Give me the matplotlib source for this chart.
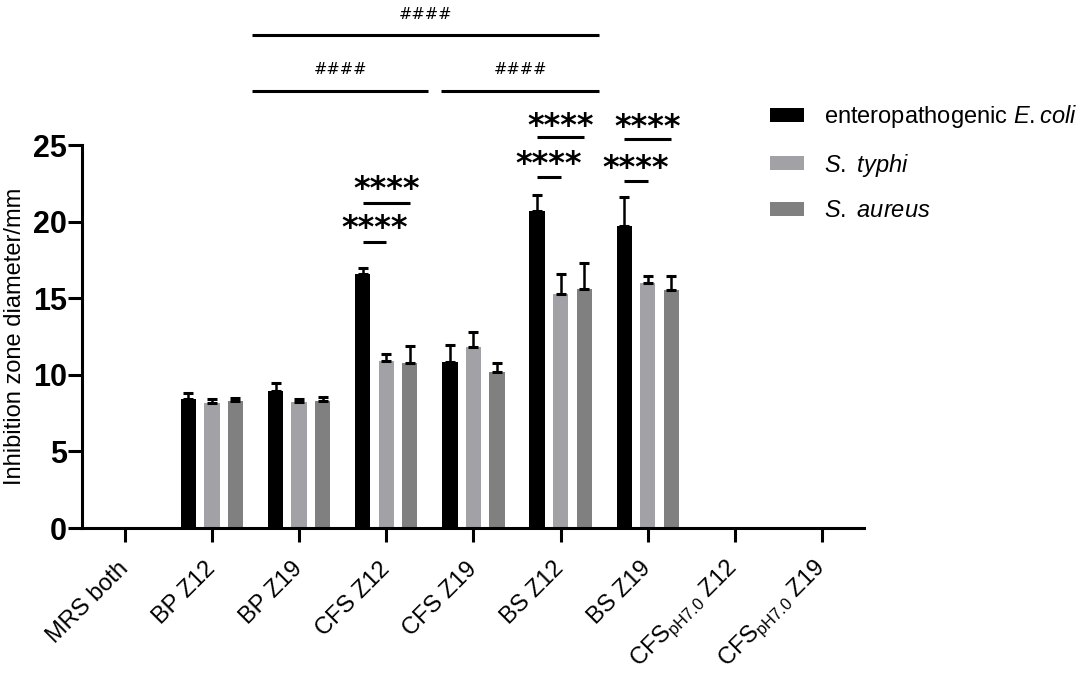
import numpy as np
import matplotlib
matplotlib.use("Agg")
import matplotlib.pyplot as plt
from matplotlib.transforms import offset_copy, ScaledTranslation

plt.rcParams['font.family'] = ['Liberation Sans', 'DejaVu Sans']
plt.rcParams['mathtext.fontset'] = 'custom'
plt.rcParams['mathtext.rm'] = 'Liberation Sans'
plt.rcParams['mathtext.it'] = 'Liberation Sans:italic'
plt.rcParams['mathtext.bf'] = 'Liberation Sans:bold'

# ---------------- data ----------------
categories = ["MRS both", "BP Z12", "BP Z19", "CFS Z12", "CFS Z19", "BS Z12", "BS Z19",
              r"CFS$_{\mathrm{pH7.0}}$ Z12", r"CFS$_{\mathrm{pH7.0}}$ Z19"]
series_names = ["enteropathogenic $E.coli$", r"$S.\ typhi$", r"$S.\ aureus$"]
ecoli = [0, 8.39, 8.96, 16.57, 10.85, 20.67, 19.74, 0, 0]
ecoli_sd = [0, 0.44, 0.52, 0.43, 1.09, 1.04, 1.85, 0, 0]
typhi = [0, 8.17, 8.22, 10.91, 11.83, 15.30, 15.98, 0, 0]
typhi_sd = [0, 0.24, 0.20, 0.46, 0.96, 1.28, 0.48, 0, 0]
aureus = [0, 8.26, 8.26, 10.74, 10.20, 15.63, 15.52, 0, 0]
aureus_sd = [0, 0.22, 0.26, 1.17, 0.57, 1.65, 0.91, 0, 0]
yticks = [0, 5, 10, 15, 20, 25]

# significance brackets: (group, series_a, series_b, line_y, text_y, label)
star_brackets = [
    (3, 0, 1, 18.64, 20.16, "****"),
    (3, 0, 2, 21.22, 22.70, "****"),
    (5, 0, 1, 22.94, 24.33, "****"),
    (5, 0, 2, 25.49, 26.83, "****"),
    (6, 0, 1, 22.62, 24.05, "****"),
    (6, 0, 2, 25.36, 26.73, "****"),
]
# hash brackets: (x_start, x_end, line_y, text_y, label)
hash_brackets = [
    (1.46, 5.44, 32.16, 33.60, "####"),
    (1.46, 3.48, 28.55, 30.00, "####"),
    (3.63, 5.44, 28.55, 30.00, "####"),
]

# ---------------- style ----------------
colors = ["#000000", "#a2a2a6", "#808080"]
offsets = [-0.27, 0.0, 0.27]
bar_w = 0.175

W, H = 1084, 675
fig = plt.figure(figsize=(W / 100, H / 100), dpi=100)
ax = fig.add_axes([82 / W, (H - 528) / H, (864 - 82) / W, (528 - 145) / H])

x = np.arange(len(categories))
series = [(ecoli, ecoli_sd), (typhi, typhi_sd), (aureus, aureus_sd)]
handles = []
for k, ((vals, sds), col, off, name) in enumerate(zip(series, colors, offsets, series_names)):
    vals = np.array(vals, float)
    sds = np.array(sds, float)
    b = ax.bar(x + off, vals, width=bar_w, color=col, edgecolor='none', label=name, zorder=2)
    handles.append(b)
    m = vals > 0
    ax.errorbar((x + off)[m], vals[m], yerr=[np.zeros(m.sum()), sds[m]], fmt='none',
                ecolor='black', elinewidth=1.8, capsize=3.5, capthick=2.2, zorder=3)

ax.set_xlim(-0.49, 8.48)
ax.set_ylim(0, 25)
ax.set_yticks(yticks)
ax.set_yticklabels([str(v) for v in yticks], fontsize=22, fontweight='bold')
ax.set_xticks(x)
ax.set_xticklabels(categories, fontsize=17, rotation=45,
                   ha='right', va='center', rotation_mode='anchor')
shift = ScaledTranslation(3 / 100, 0, fig.dpi_scale_trans)
for lab in ax.get_xticklabels():
    lab.set_transform(lab.get_transform() + shift)
for s in ['top', 'right']:
    ax.spines[s].set_visible(False)
for s in ['left', 'bottom']:
    ax.spines[s].set_linewidth(2.2)
ax.tick_params(axis='both', width=2.2, length=10, color='black')
ax.tick_params(axis='y', pad=1)
ax.tick_params(axis='x', pad=17)

fig.text(15 / W, (H - 336) / H, "Inhibition zone diameter/mm", rotation=90,
         ha='center', va='center', fontsize=17)

# stars
fs_star = 23
star_tr = offset_copy(ax.transData, fig=fig, y=-0.56 * fs_star, units='points')
for g, a, bb, ly, ty, lab in star_brackets:
    x0 = g + offsets[a]
    x1 = g + offsets[bb]
    ax.plot([x0, x1], [ly, ly], color='black', lw=2.2, clip_on=False, solid_capstyle='butt')
    ax.text((x0 + x1) / 2, ty, lab, transform=star_tr, ha='center', va='baseline',
            fontsize=fs_star, fontweight='bold', family='DejaVu Sans', clip_on=False)

fs_hash = 11.5
hash_tr = offset_copy(ax.transData, fig=fig, y=-0.365 * fs_hash, units='points')
for x0, x1, ly, ty, lab in hash_brackets:
    ax.plot([x0, x1], [ly, ly], color='black', lw=2.2, clip_on=False, solid_capstyle='butt')
    ax.text((x0 + x1) / 2, ty, lab, transform=hash_tr, ha='center', va='baseline',
            fontsize=fs_hash, family='DejaVu Sans', clip_on=False)

ax.legend(handles=handles, labels=series_names, loc='upper left',
          bbox_to_anchor=(770 / W, (H - 103) / H), bbox_transform=fig.transFigure,
          frameon=False, borderpad=0, borderaxespad=0, fontsize=17,
          handlelength=1.44, handleheight=0.55, handletextpad=0.85, labelspacing=0.92)

fig.savefig("out.png", dpi=100)
